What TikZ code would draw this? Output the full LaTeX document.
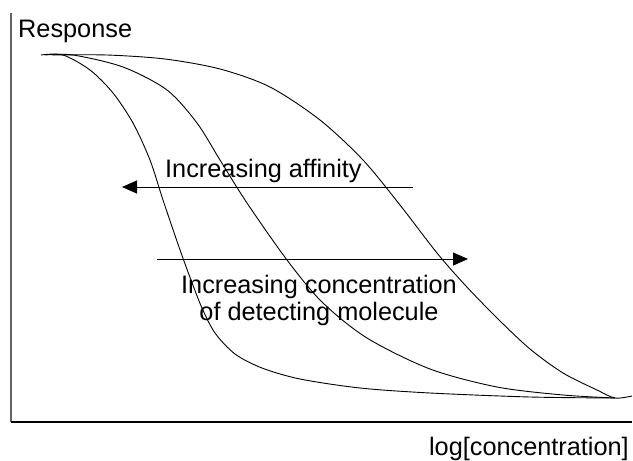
\documentclass[tikz,border=0pt]{standalone}
\usepackage{fontspec}
\setmainfont{Liberation Sans}
\usetikzlibrary{arrows.meta}
\begin{document}
\begin{tikzpicture}[x=1pt,y=-1pt,
  lbl/.style={inner sep=0pt,font=\fontsize{25.3}{27}\selectfont},
  curve/.style={line width=0.9pt,black},
  axisy/.style={line width=2pt,black!60},
  axisx/.style={line width=1.6pt,black},
  arr/.style={line width=1pt,-{Triangle[length=15pt,width=13pt]}}]
\useasboundingbox (0,0) rectangle (633,461);
% axes
\coordinate (otop) at (11,13);
\coordinate (orig) at (11,422);
\coordinate (xend) at (632,422);
\draw[axisy] (otop) -- (orig);
\draw[axisx] (orig) -- (xend);
% curves
\draw[curve] plot[smooth,tension=0.5] coordinates {(41,55) (63,55) (90,70) (113,93) (133,123) (150,160) (163,200) (179,247) (191,280) (202,308) (215,333) (235,354) (262,368) (300,379) (360,388) (430,393) (530,397) (615,398)};
\draw[curve] plot[smooth,tension=0.5] coordinates {(45,55) (73,55) (123,67) (167,90) (197,123) (220,160) (247,203) (287,260) (322,302) (367,338) (430,369) (497,387) (563,395) (615,398)};
\draw[curve] plot[smooth,tension=0.5] coordinates {(52,55) (107,55) (165,59) (220,69) (270,87) (320,120) (363,160) (400,205) (437,253) (465,285) (497,318) (530,349) (563,373) (597,390) (615,398) (632,396)};
% labels
\node[lbl,anchor=base west] (resp) at (18,37) {Response};
\node[lbl,anchor=base west] (aff) at (165,177) {Increasing affinity};
\node[lbl,align=center,anchor=base] (conc) at (319,320) {Increasing concentration\\of detecting molecule};
\node[lbl,anchor=base east] (logc) at (629,455) {log[concentration]};
% arrows
\coordinate (a1s) at (413,187);
\coordinate (a1e) at (122,187);
\coordinate (a2s) at (157,259);
\coordinate (a2e) at (468,259);
\draw[arr] (a1s) -- (a1e);
\draw[arr] (a2s) -- (a2e);
\end{tikzpicture}
\end{document}
